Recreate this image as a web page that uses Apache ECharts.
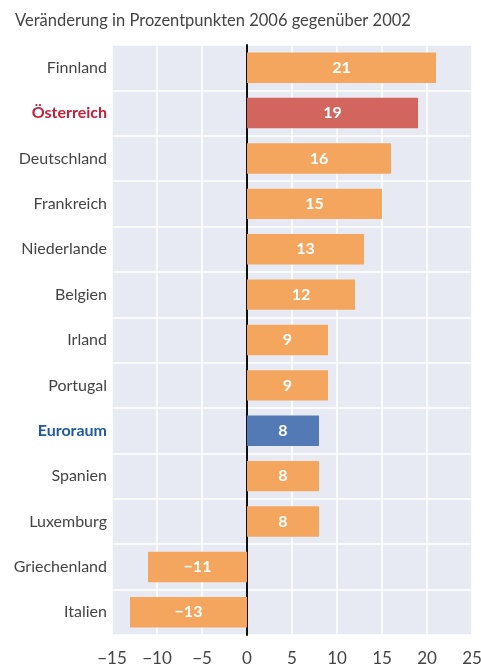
<!DOCTYPE html>
<html>
<head>
<meta charset="utf-8">
<script src="https://cdn.jsdelivr.net/npm/echarts@6/dist/echarts.min.js"></script>
<style>
  html, body { margin: 0; padding: 0; background: #fff; }
  #chart { width: 481px; height: 671px; }
</style>
</head>
<body>
<div id="chart"></div>
<script>
// Länder von oben nach unten
var categories = ['Finnland', 'Österreich', 'Deutschland', 'Frankreich', 'Niederlande', 'Belgien',
  'Irland', 'Portugal', 'Euroraum', 'Spanien', 'Luxemburg', 'Griechenland', 'Italien'];
var values = [21, 19, 16, 15, 13, 12, 9, 9, 8, 8, 8, -11, -13];
var xTicks = [-15, -10, -5, 0, 5, 10, 15, 20, 25];

var ORANGE = '#f4a65e', RED = '#d2665e', BLUE = '#547ab5';

function minus(v) {
  return String(v).replace('-', '\u2212');
}

var chart = echarts.init(document.getElementById('chart'));
var option = {
  animation: false,
  title: {
    text: 'Veränderung in Prozentpunkten 2006 gegenüber 2002',
    left: 10,
    top: 7,
    textStyle: { fontFamily: 'Lato', fontSize: 16.5, fontWeight: 'normal', color: '#444' }
  },
  grid: {
    left: 112, right: 9, top: 45, bottom: 36,
    outerBoundsMode: 'none',
    show: true, backgroundColor: '#e8eaf3', borderWidth: 0
  },
  xAxis: {
    type: 'value',
    min: xTicks[0],
    max: xTicks[xTicks.length - 1],
    interval: 5,
    axisLine: { show: false },
    axisTick: { show: false },
    splitLine: { show: true, lineStyle: { color: '#fff', width: 1.5 } },
    axisLabel: {
      margin: 15,
      fontFamily: 'Lato', fontSize: 17, color: '#444',
      formatter: function (v) { return minus(v); }
    }
  },
  yAxis: {
    type: 'category',
    inverse: true,
    data: categories,
    axisLine: { show: true, onZero: true, lineStyle: { color: '#111', width: 2 } },
    axisTick: { show: false },
    splitLine: { show: true, lineStyle: { color: '#fff', width: 1.5 } },
    axisLabel: {
      margin: 5,
      fontFamily: 'Lato', fontSize: 16, color: '#444',
      formatter: function (v) {
        if (v === 'Österreich') return '{red|' + v + '}';
        if (v === 'Euroraum') return '{blue|' + v + '}';
        return v;
      },
      rich: {
        red: { fontFamily: 'Lato', fontSize: 16, fontWeight: 'bold', color: '#c41e3a' },
        blue: { fontFamily: 'Lato', fontSize: 16, fontWeight: 'bold', color: '#1f5a9e' }
      }
    }
  },
  series: [{
    type: 'bar',
    barCategoryGap: '33%',
    z: 1,
    data: values.map(function (v, i) {
      var c = ORANGE;
      if (categories[i] === 'Österreich') c = RED;
      if (categories[i] === 'Euroraum') c = BLUE;
      return { value: v, itemStyle: { color: c } };
    }),
    label: {
      show: true,
      position: 'inside',
      fontFamily: 'Lato', fontSize: 16, fontWeight: 'bold', color: '#fff',
      formatter: function (p) { return minus(p.value); }
    }
  }]
};
chart.setOption(option);
</script>
</body>
</html>
